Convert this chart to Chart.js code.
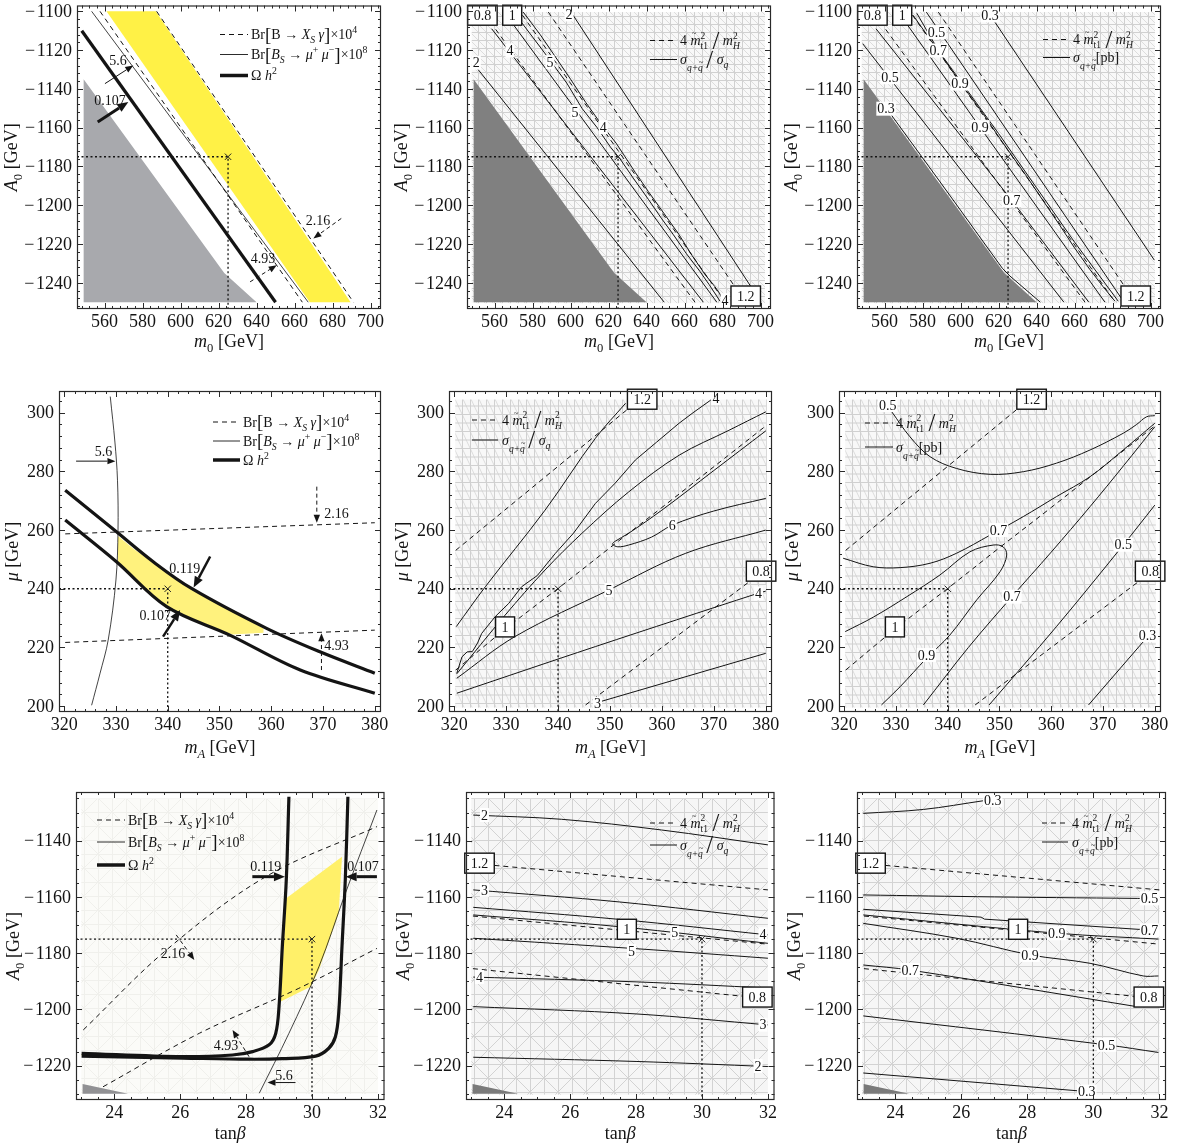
<!DOCTYPE html>
<html>
<head>
<meta charset="utf-8">
<script src="https://cdn.jsdelivr.net/npm/chart.js@4.4.1/dist/chart.umd.min.js"></script>
<style>
  body { margin: 0; background: #fff; width: 1186px; height: 1146px; position: relative; overflow: hidden; }
  canvas { position: absolute; }
</style>
</head>
<body>
<script>
// ---------- axes ----------
const m0Range = [545.5, 705.5];
const a0RangeTop = [-1253.5, -1097];
const mARange = [319, 381.2];
const muRange = [198, 307.4];
const tbRange = [22.84, 32.2];
const a0RangeBot = [-1232.2, -1122.7];

const m0Ticks = [560, 580, 600, 620, 640, 660, 680, 700];
const a0TicksTop = [-1240, -1220, -1200, -1180, -1160, -1140, -1120, -1100];
const mATicks = [320, 330, 340, 350, 360, 370, 380];
const muTicks = [200, 220, 240, 260, 280, 300];
const tbTicks = [24, 26, 28, 30, 32];
const a0TicksBot = [-1220, -1200, -1180, -1160, -1140];

// benchmark point in each plane
const benchTop = [625, -1175];
const benchMid = [340, 240];
const benchBot = [30, -1175];

// ---------- (m0, A0) plane ----------
const topExcluded = [[549, -1135], [623, -1235], [640, -1250], [549, -1250]];
const p1Band = [[561, -1100], [587, -1100], [689.5, -1250], [668, -1250]];
const p1Relic107 = [[548, -1110], [650, -1250]];
const p1Bsmm56 = [[553.2, -1100], [667.2, -1250]];
const p1Bsg493 = [[557.6, -1100], [664.1, -1250]];
const p1Bsg216 = [[587.4, -1100], [691, -1250]];

// 4 m_t1^2 / m_H^2 (shared by both cross-section panels)
const topStop08 = [[560.6, -1109.3], [665.5, -1250]];
const topStop10 = [[574.7, -1102], [681, -1249.5]];
const topStop12 = [[588.3, -1100.4], [692, -1250]];

// sigma ratio contours
const p2Ratio2a = [[549.7, -1128], [649.3, -1250]];
const p2Ratio4a = [[558.5, -1109], [669.9, -1250]];
const p2Ratio5a = [[570, -1107], [677, -1250]];
const p2Ratio5b = [[573.4, -1104.7], [586, -1121], [598, -1137], [606, -1150], [614, -1160], [621, -1170], [626, -1176],
  [633, -1186], [641, -1197], [648, -1207], [654, -1215], [661, -1225], [668, -1234], [673, -1241], [678.7, -1249.5]];
const p2Ratio4b = [[575.1, -1100.4], [584, -1112], [591, -1122], [600, -1135], [608, -1147], [616, -1158], [624, -1168],
  [628, -1174], [634, -1183], [641, -1193], [649, -1204], [657, -1215], [664, -1226], [671, -1236], [676, -1242], [681.3, -1249.5]];
const p2Ratio2b = [[601.4, -1102.1], [700.3, -1250]];

// sigma [pb] contours
const p3Xs03a = [[561, -1150], [590, -1189], [622, -1232.5], [626, -1236.5], [642, -1250]];
const p3Xs05a = [[548.5, -1116.7], [654.4, -1250]];
const p3Xs07a = [[555.5, -1109], [626.9, -1197.4], [667.5, -1250]];
const p3Xs09a = [[571.6, -1106.4], [610.2, -1159.7], [676, -1250]];
const p3Xs09b = [[575, -1102], [588, -1120], [600, -1137], [612, -1153], [621, -1166], [626, -1173], [634, -1184],
  [643, -1197], [652, -1210], [660, -1222], [668, -1233], [675, -1242], [681.3, -1249.5]];
const p3Xs07b = [[577, -1101], [588.3, -1120.2], [600, -1136], [620, -1163], [640, -1191], [660, -1219], [683, -1249.5]];
const p3Xs05b = [[582, -1100.4], [685.7, -1249.5]];
const p3Xs03b = [[618.1, -1105.6], [702, -1228.3]];

// ---------- (mA, mu) plane ----------
const p4Band = [[330.4, 258], [333.5, 253.5], [337.2, 249], [340.8, 244.5], [344.6, 240], [348.3, 236.3], [352, 232.8],
  [355.2, 229.6], [358.5, 226.5], [358.5, 225], [352.6, 224.4], [348.5, 226.8], [345, 229.2], [339.8, 233.5], [337.2, 237.1],
  [335, 241], [332.6, 245], [330.4, 248.8]];
const p4Relic119 = [[320.2, 273.6], [330.1, 259.4], [337.2, 249.2], [344.6, 240.1], [359.1, 226.5], [369.4, 218.5], [380, 211.2]];
const p4Relic107 = [[320.2, 263.4], [330.1, 249.2], [339.8, 233.9], [352, 224.2], [365.6, 212.3], [380, 204.4]];
const p4Bsmm56 = [[328.9, 305.5], [329.8, 290], [330.3, 277], [330.4, 260], [330, 243], [328.5, 222.5], [326.9, 211], [325.3, 200.3]];
const p4Bsg216 = [[320.2, 258.7], [380, 262.5]];
const p4Bsg493 = [[320.2, 221.7], [380, 225.9]];

const midStop12 = [[320.3, 253.1], [353.2, 300.9]];
const midStop10 = [[320.3, 212.3], [330, 226.5], [340.5, 240.8], [350, 254], [360, 267.7], [380, 295.5]];
const midStop08 = [[345.3, 200.4], [376.6, 242.1]];

const p5Ratio3a = [[320.4, 227.1], [326, 240.7], [337.5, 266.8], [347.2, 291.3], [353, 303.2]];
const p5Ratio4a = [[320.5, 211.2], [321.5, 216.8], [322.5, 218.5], [323.5, 218.6], [324.5, 221.5], [325.3, 224.8],
  [327.9, 230.5], [330.5, 235], [333, 240.7], [336, 244.5], [339.5, 252.1], [343, 259], [347.2, 269.1], [351, 276],
  [354.9, 283.9], [359, 290], [363.3, 296.4], [366, 300], [369.4, 304.3]];
const p5Ratio5a = [[320.5, 211], [329.8, 231], [337.5, 246.4], [344.6, 258.9], [353.6, 273], [363.3, 285.5], [372.9, 294], [380, 300.3]];
const p5Ratio6 = [[380, 293.8], [370, 280.3], [360, 266.8], [353.5, 258.8], [351, 256.2], [350.5, 255.2], [351.5, 254.3],
  [353.6, 254.9], [358, 257.6], [362, 261.7], [370, 266.5], [380, 270.8]];
const p5Ratio5b = [[320.5, 209.5], [331.7, 223.7], [349.8, 239.6], [364.6, 252.1], [380, 260]];
const p5Ratio4b = [[320.5, 204.4], [347.2, 220.3], [378.4, 238.4], [380, 239.2]];
const p5Ratio3b = [[347.5, 201.2], [380, 218]];

const p6Xs05a = [[329.2, 300.3], [332.7, 291.8], [336.6, 285], [341.7, 281], [348.2, 279], [354.6, 279.9], [361, 282.8],
  [367.5, 287.3], [373.9, 293], [376.5, 296], [378.4, 298.6], [380, 299]];
const p6Xs07a = [[319.8, 250.4], [325.6, 247.5], [330.8, 247.2], [336.6, 248.7], [341.7, 252.1], [348.2, 258.3],
  [354.6, 264.6], [361, 271.4], [367.5, 278.2], [373.9, 287.3], [380, 296.4]];
const p6Xs09 = [[320.2, 225.4], [325.6, 230.3], [332.1, 237.3], [338.5, 244.7], [344.3, 252.6], [348.8, 254.9],
  [350.7, 254.3], [351.4, 251.5], [350.1, 245.8], [345.6, 236.2], [340.4, 224.2], [335.9, 216.3], [330.8, 206.6], [327.2, 200.4]];
const p6Xs07b = [[335.3, 200.4], [344, 220], [352.4, 237.3], [360, 252.5], [367.5, 268], [374, 282], [380, 295.2]];
const p6Xs05b = [[348, 200.4], [361, 227.1], [373.9, 254.9], [380, 268.5]];
const p6Xs03b = [[367.2, 200.4], [380, 226.5]];

// ---------- (tan beta, A0) plane ----------
const botExcluded = [[23.04, -1226.5], [24.42, -1230], [23.04, -1230]];
const p7Band = [[29.22, -1160.5], [30.91, -1145.7], [30.81, -1165.8], [30.21, -1186], [29.96, -1191.9], [29.05, -1197.2]];
const p7Sliver = [[23.01, -1215.9], [25.8, -1216.6], [25.8, -1217], [23.01, -1216.4]];
const p7Relic119 = [[29.3, -1124.4], [29.22, -1154], [29.1, -1177.7], [29.0, -1199], [28.9, -1208.5], [28.7, -1212.6],
  [28.2, -1215], [27.59, -1216.2], [26.08, -1216.8], [23.01, -1215.6]];
const p7Relic107 = [[31.09, -1124.4], [31.01, -1154], [30.91, -1177.7], [30.81, -1201.4], [30.71, -1209.7], [30.51, -1213.8],
  [30.11, -1216.6], [29.1, -1217.5], [28.09, -1217.7], [26.08, -1217.3], [23.01, -1216.6]];
const p7Bsg216 = [[23.06, -1207.3], [25.58, -1178.9], [28.6, -1152.8], [31.97, -1135]];
const p7Bsg493 = [[23.66, -1227.5], [26.58, -1208.5], [29.6, -1192.5], [31.97, -1178.3]];
const p7Bsmm56 = [[28.4, -1229.8], [29.3, -1208.5], [30.21, -1184.8], [31.01, -1158.8], [31.97, -1129.1]];

const botStop12 = [[23.7, -1148.8], [32, -1157.5]];
const botStop10 = [[23.05, -1166.8], [32, -1176.8]];
const botStop08 = [[23.05, -1185.5], [31.3, -1195.4]];

const p8Ratio2a = [[23.06, -1130.9], [25.74, -1132.4], [28.77, -1136.2], [32, -1141.5]];
const p8Ratio3a = [[23.06, -1157.5], [27.5, -1161.8], [32, -1167.6]];
const p8Ratio4a = [[23.06, -1163.7], [27.5, -1168], [32, -1173.5]];
const p8Ratio5a = [[23.06, -1166.4], [27.5, -1170.6], [32, -1176.5]];
const p8Ratio5b = [[23.06, -1174.7], [28, -1178.4], [32, -1181.8]];
const p8Ratio4b = [[23.06, -1188.5], [28, -1190.2], [32, -1192.4]];
const p8Ratio3b = [[23.06, -1199], [28, -1201.6], [32, -1205.5]];
const p8Ratio2b = [[23.06, -1217], [28, -1218.5], [32, -1220.3]];

const p9Xs03a = [[23.03, -1130.3], [24.85, -1128.9], [26.67, -1125.8]];
const p9Xs05a = [[23.03, -1159.3], [27, -1160], [31.97, -1160.6]];
const p9Xs07a = [[23.03, -1164.4], [26.6, -1167.2], [26.7, -1167.9], [31.97, -1172]];
const p9Xs09a = [[23.03, -1166.4], [28.89, -1172.9], [31.97, -1175]];
const p9Xs09b = [[23.03, -1169.4], [25.86, -1174.7], [28.08, -1180.6], [29.9, -1183.6], [31.51, -1188.1], [31.97, -1188.1]];
const p9Xs07b = [[23.03, -1184.2], [24.45, -1186], [31.31, -1199]];
const p9Xs05b = [[23.03, -1202.3], [30.4, -1212.6], [31.97, -1215.3]];
const p9Xs03b = [[23.03, -1222.6], [29.8, -1229.2]];

// ---------- drawing helpers ----------
const FONT = '"Liberation Serif", "Times New Roman", serif';
const INK = '#141414';
const fnt = (px, it) => (it ? 'italic ' : '') + px + 'px ' + FONT;

const KIND = {
  r: { s: 1, dy: 0, it: false }, i: { s: 1, dy: 0, it: true }, tm: { s: 1, dy: 0, it: true },
  b: { s: 1.35, dy: 0.1, it: false }, B: { s: 1.75, dy: 0.27, it: false },
  sb: { s: 0.7, dy: 0.3, it: false }, si: { s: 0.7, dy: 0.3, it: true },
  sp: { s: 0.7, dy: -0.42, it: false }, sit: { s: 0.68, dy: 0.5, it: true }
};

// mixed-style text run; y is the baseline
function rich(ctx, parts, x, y, size, draw) {
  let cx = x;
  for (const [t, k] of parts) {
    if (k === 'st' || k === 'str') {
      const [a, b] = t.split('|');
      ctx.font = fnt(size * 0.68, false);
      const wa = ctx.measureText(a).width;
      if (draw) ctx.fillText(a, cx, y - size * 0.45);
      ctx.font = fnt(size * 0.68, k === 'st');
      const wb = ctx.measureText(b).width;
      if (draw) ctx.fillText(b, cx, y + size * 0.3);
      cx += Math.max(wa, wb) + 1;
      continue;
    }
    const sp = KIND[k];
    ctx.font = fnt(size * sp.s, sp.it);
    const w = ctx.measureText(t).width;
    if (draw) {
      ctx.fillText(t, cx, y + size * sp.dy);
      if (k === 'tm' || k === 'sit') {
        const lw = ctx.measureText(t.slice(-1)).width;
        const base = y + size * sp.dy;
        ctx.font = fnt(size * 0.62, false);
        ctx.fillText('~', cx + w - lw + lw * 0.12, base - size * sp.s * 0.62);
      }
    }
    cx += w;
  }
  return cx - x;
}

function drawArrow(ctx, x0, y0, x1, y1, w, dash) {
  const a = Math.atan2(y1 - y0, x1 - x0);
  const hl = w > 2 ? 11 : 8, hw = w > 2 ? 4.5 : 3.2;
  const bx = x1 - Math.cos(a) * hl, by = y1 - Math.sin(a) * hl;
  ctx.save();
  ctx.strokeStyle = INK; ctx.fillStyle = INK; ctx.lineWidth = w; ctx.setLineDash(dash);
  ctx.beginPath(); ctx.moveTo(x0, y0); ctx.lineTo(bx, by); ctx.stroke();
  ctx.setLineDash([]);
  ctx.beginPath(); ctx.moveTo(x1, y1);
  ctx.lineTo(bx - Math.sin(a) * hw, by + Math.cos(a) * hw);
  ctx.lineTo(bx + Math.sin(a) * hw, by - Math.cos(a) * hw);
  ctx.closePath(); ctx.fill();
  ctx.restore();
}

// background mesh tiles
function makeTile(kind) {
  const t = document.createElement('canvas');
  const g = t.getContext('2d');
  if (kind === 'diag') {
    t.width = 8; t.height = 8;
    g.fillStyle = '#f8f8f8'; g.fillRect(0, 0, 8, 8);
    g.strokeStyle = '#dcdcdc'; g.lineWidth = 1;
    g.beginPath(); g.moveTo(0, 0); g.lineTo(8, 8); g.stroke();
    g.strokeStyle = '#d0d0d0';
    g.beginPath(); g.moveTo(0.5, 0); g.lineTo(0.5, 8); g.moveTo(0, 0.5); g.lineTo(8, 0.5); g.stroke();
  } else if (kind === 'steep') {
    t.width = 8; t.height = 17;
    g.fillStyle = '#f8f8f8'; g.fillRect(0, 0, 8, 17);
    g.strokeStyle = '#dcdcdc'; g.lineWidth = 1;
    g.beginPath(); g.moveTo(0, 0); g.lineTo(8, 17); g.stroke();
    g.strokeStyle = '#d0d0d0';
    g.beginPath(); g.moveTo(0.5, 0); g.lineTo(0.5, 17); g.moveTo(0, 0.5); g.lineTo(8, 0.5); g.moveTo(0, 9); g.lineTo(8, 9); g.stroke();
  } else {
    const faint = kind === 'faint';
    t.width = 28; t.height = 28;
    g.fillStyle = faint ? '#fbfbf8' : '#f6f6f6'; g.fillRect(0, 0, 28, 28);
    g.strokeStyle = faint ? '#f0f0ec' : '#d3d3d3'; g.lineWidth = 1;
    g.beginPath();
    g.moveTo(0.5, 0); g.lineTo(0.5, 28); g.moveTo(14.5, 0); g.lineTo(14.5, 28);
    g.moveTo(0, 0.5); g.lineTo(28, 0.5); g.moveTo(0, 14.5); g.lineTo(28, 14.5);
    g.moveTo(0, 14); g.lineTo(14, 0); g.lineTo(28, 14); g.lineTo(14, 28); g.closePath();
    g.stroke();
  }
  return t;
}

// ---------- per-panel decoration ----------
const TICK_PX = 18;
const A0title = [['A', 'i'], ['0', 'sb'], [' [GeV]', 'r']];
const axTop = { xt: m0Ticks, yt: a0TicksTop, xm: 4, ym: 4, xTitle: [['m', 'i'], ['0', 'sb'], [' [GeV]', 'r']], yTitle: A0title, xOff: 32, yOff: 65 };
const axMid = { xt: mATicks, yt: muTicks, xm: 2, ym: 4, xTitle: [['m', 'i'], ['A', 'si'], [' [GeV]', 'r']], yTitle: [['\u03bc', 'i'], [' [GeV]', 'r']], xOff: 35, yOff: 46 };
const axBot = { xt: tbTicks, yt: a0TicksBot, xm: 0.5, ym: 5, xTitle: [['tan', 'r'], ['\u03b2', 'i']], yTitle: A0title, xOff: 33, yOff: 62 };

const legBr = [
  { dash: [5, 4], w: 1, parts: [['Br', 'r'], ['[', 'b'], ['B', 'r'], [' \u2192 ', 'r'], ['X', 'i'], ['S', 'si'], [' \u03b3', 'i'], [']', 'b'], ['\u00d710', 'r'], ['4', 'sp']] },
  { dash: [], w: 0.9, parts: [['Br', 'r'], ['[', 'b'], ['B', 'i'], ['S', 'si'], [' \u2192 ', 'r'], ['\u03bc', 'i'], ['+', 'sp'], [' \u03bc', 'i'], ['\u2212', 'sp'], [']', 'b'], ['\u00d710', 'r'], ['8', 'sp']] },
  { dash: [], w: 3.5, parts: [['\u03a9', 'r'], [' h', 'i'], ['2', 'sp']] }
];
const legStop = { dash: [5, 4], w: 1, parts: [['4 ', 'r'], ['m', 'tm'], ['2|t1', 'str'], [' ', 'r'], ['/', 'B'], [' ', 'r'], ['m', 'i'], ['2|H', 'st']] };
const legRatio = [legStop, { dash: [], w: 1, parts: [['\u03c3', 'i'], ['q+q', 'sit'], [' ', 'r'], ['/', 'B'], [' ', 'r'], ['\u03c3', 'i'], ['q', 'si']] }];
const legXsec = [legStop, { dash: [], w: 1, parts: [['\u03c3', 'i'], ['q+q', 'sit'], ['[pb]', 'r']] }];

const boxesTop = [['0.8', 553.6, -1102], ['1', 569.3, -1102], ['1.2', 692.2, -1246.8]];
const boxesMid = [['1.2', 356.2, 304.6], ['1', 329.8, 227], ['0.8', 379.1, 246]];
const boxesBot = [['1.2', 23.25, -1148], ['1', 27.72, -1171.5], ['0.8', 31.68, -1195.6]];

const decor = {
  p1: { ax: axTop, mesh: null, meshBox: null,
    legend: { x0: 143, x1: 171, tx: 174, ys: [29, 49, 70], rows: legBr, size: 14 },
    notes: [['5.6', 567.1, -1125.3], ['0.107', 562.9, -1145.9], ['2.16', 672.3, -1207.7], ['4.93', 643.4, -1227.3]],
    arrows: [{ f: [560.2, -1137.3], t: [575.1, -1127.9], w: 1, dash: [] }, { f: [556.4, -1157.1], t: [572.5, -1146.8], w: 3, dash: [] },
      { f: [684.6, -1206.8], t: [669.9, -1217.1], w: 1, dash: [4, 3] }, { f: [636.6, -1239.5], t: [650.6, -1230.9], w: 1, dash: [4, 3] }],
    labels: [], boxes: [] },
  p2: { ax: axTop, mesh: 'diag', meshBox: [548, 702.3, -1250.5, -1100.4],
    legend: { x0: 183, x1: 210, tx: 213, ys: [35, 54], rows: legRatio, size: 14 },
    labels: [['2', 550.4, -1126.5], ['4', 568.1, -1120.2], ['5', 589.2, -1126.2], ['5', 602.3, -1151.9], ['4', 617.2, -1159.7], ['2', 599.2, -1101.6], ['4', 681.3, -1249]],
    boxes: boxesTop, notes: [], arrows: [] },
  p3: { ax: axTop, mesh: 'diag', meshBox: [548, 702.3, -1250.5, -1100.4],
    legend: { x0: 186, x1: 213, tx: 216, ys: [34, 52], rows: legXsec, size: 14 },
    labels: [['0.3', 560.8, -1150.2], ['0.5', 562.9, -1134], ['0.7', 626.9, -1197.4], ['0.9', 610.2, -1159.7], ['0.9', 599.7, -1137.3],
      ['0.7', 588.3, -1120.2], ['0.5', 587.4, -1110.7], ['0.3', 615.5, -1102.1]],
    boxes: boxesTop, notes: [], arrows: [] },
  p4: { ax: axMid, mesh: null, meshBox: null,
    legend: { x0: 154, x1: 181, tx: 184, ys: [31, 50, 69], rows: legBr, size: 14 },
    notes: [['5.6', 327.6, 286.7], ['2.16', 372.6, 265.7], ['4.93', 372.6, 220.8], ['0.119', 343.3, 247], ['0.107', 337.6, 231.1]],
    arrows: [{ f: [322.3, 283.5], t: [329.9, 283.5], w: 1, dash: [] }, { f: [368.8, 274.8], t: [368.8, 262.5], w: 1, dash: [4, 3] },
      { f: [369.7, 212.3], t: [369.7, 224.8], w: 1, dash: [4, 3] }, { f: [348.2, 251], t: [345, 240.4], w: 2.5, dash: [] },
      { f: [339.1, 223.7], t: [342.4, 232.8], w: 2.5, dash: [] }],
    labels: [], boxes: [] },
  p5: { ax: axMid, mesh: 'steep', meshBox: [320.2, 380.2, 199.5, 304.5],
    legend: { x0: 23, x1: 49, tx: 53, ys: [29, 49], rows: legRatio, size: 14 },
    labels: [['4', 370.4, 305], ['6', 362, 261.7], ['5', 349.8, 239.6], ['4', 378.6, 238.4], ['3', 347.6, 200.8]],
    boxes: boxesMid, notes: [], arrows: [] },
  p6: { ax: axMid, mesh: 'steep', meshBox: [320.2, 380.2, 199.5, 304.5],
    legend: { x0: 26, x1: 54, tx: 57, ys: [32, 56], rows: legXsec, size: 14 },
    labels: [['0.5', 328.4, 302.6], ['0.7', 349.8, 260], ['0.9', 335.9, 217.4], ['0.7', 352.4, 237.3], ['0.5', 373.9, 255], ['0.3', 378.6, 224.2]],
    boxes: boxesMid, notes: [], arrows: [] },
  p7: { ax: axBot, mesh: 'faint', meshBox: [23, 32, -1230, -1125],
    legend: { x0: 21, x1: 49, tx: 52, ys: [28, 50, 73], rows: legBr, size: 14 },
    notes: [['0.119', 28.6, -1149.3], ['0.107', 31.55, -1149.3], ['2.16', 25.78, -1180], ['4.93', 27.39, -1212.6], ['5.6', 29.15, -1223.3]],
    arrows: [{ f: [28.19, -1152.8], t: [29.18, -1152.8], w: 3, dash: [] }, { f: [31.97, -1152.8], t: [31.02, -1152.8], w: 3, dash: [] },
      { f: [25.88, -1173.5], t: [26.43, -1182.4], w: 1, dash: [4, 3] }, { f: [28.09, -1216.8], t: [27.59, -1207.3], w: 1, dash: [4, 3] },
      { f: [29.5, -1226], t: [28.65, -1226], w: 1, dash: [] }],
    labels: [], boxes: [] },
  p8: { ax: axBot, mesh: 'tri', meshBox: [23, 32, -1230.3, -1124.9],
    legend: { x0: 184, x1: 211, tx: 214, ys: [31, 53], rows: legRatio, size: 14 },
    labels: [['2', 23.4, -1130.9], ['3', 23.4, -1157.5], ['4', 31.85, -1173.3], ['5', 29.17, -1172.7], ['5', 27.86, -1179.2],
      ['4', 23.25, -1188.5], ['3', 31.85, -1205.4], ['2', 31.7, -1220.1]],
    boxes: boxesBot, notes: [], arrows: [] },
  p9: { ax: axBot, mesh: 'tri', meshBox: [23, 32, -1230.3, -1124.9],
    legend: { x0: 185, x1: 211, tx: 215, ys: [31, 50], rows: legXsec, size: 14 },
    labels: [['0.3', 26.95, -1125.5], ['0.5', 31.7, -1160.5], ['0.7', 31.7, -1171.9], ['0.9', 28.89, -1172.9], ['0.9', 28.08, -1180.6],
      ['0.7', 24.45, -1186], ['0.5', 30.4, -1212.6], ['0.3', 29.8, -1229.2]],
    boxes: boxesBot, notes: [], arrows: [] }
};

const tiles = {};
const fmt = v => (v < 0 ? '\u2212\u200a' + Math.abs(v) : String(v));

const decoPlugin = {
  id: 'deco',
  beforeDatasetsDraw(chart) {
    const d = decor[chart.canvas.id];
    if (!d.mesh) return;
    const { ctx, scales: { x, y } } = chart;
    if (!tiles[d.mesh]) tiles[d.mesh] = makeTile(d.mesh);
    const [x0, x1, y0, y1] = d.meshBox;
    const px0 = x.getPixelForValue(x0), px1 = x.getPixelForValue(x1);
    const py0 = y.getPixelForValue(y1), py1 = y.getPixelForValue(y0);
    ctx.save();
    ctx.fillStyle = ctx.createPattern(tiles[d.mesh], 'repeat');
    ctx.fillRect(px0, py0, px1 - px0, py1 - py0);
    ctx.restore();
  },
  afterDatasetsDraw(chart) {
    const d = decor[chart.canvas.id];
    const { ctx, scales: { x, y } } = chart;
    const P = (a, b) => [x.getPixelForValue(a), y.getPixelForValue(b)];
    ctx.save();
    ctx.fillStyle = INK;
    ctx.textBaseline = 'middle';
    ctx.textAlign = 'center';

    // contour labels on a white patch
    ctx.font = fnt(14, false);
    for (const [t, a, b] of d.labels) {
      const [px, py] = P(a, b);
      const w = ctx.measureText(t).width;
      ctx.fillStyle = '#fff';
      ctx.fillRect(px - w / 2 - 1, py - 7, w + 2, 14);
      ctx.fillStyle = INK;
      ctx.fillText(t, px, py + 1);
    }
    // boxed contour labels
    for (const [t, a, b] of d.boxes) {
      const [px, py] = P(a, b);
      const w = ctx.measureText(t).width + 12;
      ctx.fillStyle = '#fff';
      ctx.fillRect(px - w / 2, py - 10, w, 20);
      ctx.strokeStyle = INK; ctx.lineWidth = 1.4;
      ctx.strokeRect(px - w / 2, py - 10, w, 20);
      ctx.fillStyle = INK;
      ctx.fillText(t, px, py + 1);
    }
    // plain annotations
    for (const [t, a, b] of d.notes) {
      const [px, py] = P(a, b);
      ctx.fillText(t, px, py + 1);
    }
    for (const ar of d.arrows) {
      const [x0, y0] = P(ar.f[0], ar.f[1]);
      const [x1, y1] = P(ar.t[0], ar.t[1]);
      drawArrow(ctx, x0, y0, x1, y1, ar.w, ar.dash);
    }
    // legend
    const { left, top } = chart.chartArea;
    const lg = d.legend;
    ctx.textAlign = 'left';
    ctx.textBaseline = 'alphabetic';
    lg.rows.forEach((row, i) => {
      const yy = top + lg.ys[i];
      ctx.strokeStyle = INK; ctx.lineWidth = row.w; ctx.setLineDash(row.dash);
      ctx.beginPath(); ctx.moveTo(left + lg.x0, yy); ctx.lineTo(left + lg.x1, yy); ctx.stroke();
      ctx.setLineDash([]);
      rich(ctx, row.parts, left + lg.tx, yy + lg.size * 0.33, lg.size, true);
    });
    ctx.restore();
  },
  afterDraw(chart) {
    const d = decor[chart.canvas.id];
    const ax = d.ax;
    const { ctx, chartArea: { left: L, right: R, top: T, bottom: B }, scales: { x, y } } = chart;
    ctx.save();
    ctx.strokeStyle = '#2a2a2a'; ctx.lineWidth = 1.2;
    ctx.strokeRect(L + 0.5, T + 0.5, R - L - 1, B - T - 1);

    const minorVals = (scale, major, step) => {
      const out = [];
      const ms = major[1] - major[0];
      for (let v = Math.ceil(scale.min / step) * step; v <= scale.max; v += step) {
        const r = v / ms;
        if (Math.abs(r - Math.round(r)) > 1e-6) out.push(v);
      }
      return out;
    };
    ctx.lineWidth = 1;
    ctx.beginPath();
    for (const v of ax.xt) {
      const px = Math.round(x.getPixelForValue(v)) + 0.5;
      ctx.moveTo(px, B); ctx.lineTo(px, B - 6); ctx.moveTo(px, T); ctx.lineTo(px, T + 6);
    }
    for (const v of minorVals(x, ax.xt, ax.xm)) {
      const px = Math.round(x.getPixelForValue(v)) + 0.5;
      ctx.moveTo(px, B); ctx.lineTo(px, B - 3); ctx.moveTo(px, T); ctx.lineTo(px, T + 3);
    }
    for (const v of ax.yt) {
      const py = Math.round(y.getPixelForValue(v)) + 0.5;
      ctx.moveTo(L, py); ctx.lineTo(L + 6, py); ctx.moveTo(R, py); ctx.lineTo(R - 6, py);
    }
    for (const v of minorVals(y, ax.yt, ax.ym)) {
      const py = Math.round(y.getPixelForValue(v)) + 0.5;
      ctx.moveTo(L, py); ctx.lineTo(L + 3, py); ctx.moveTo(R, py); ctx.lineTo(R - 3, py);
    }
    ctx.stroke();

    // tick labels
    ctx.fillStyle = INK;
    ctx.font = fnt(TICK_PX, false);
    ctx.textAlign = 'center'; ctx.textBaseline = 'middle';
    for (const v of ax.xt) ctx.fillText(fmt(v), x.getPixelForValue(v), B + 13);
    ctx.textAlign = 'right';
    for (const v of ax.yt) ctx.fillText(fmt(v), L - 5, y.getPixelForValue(v) + 1);

    // axis titles
    ctx.textAlign = 'left'; ctx.textBaseline = 'alphabetic';
    const wx = rich(ctx, ax.xTitle, 0, 0, TICK_PX, false);
    rich(ctx, ax.xTitle, (L + R) / 2 - wx / 2, B + ax.xOff + 6, TICK_PX, true);
    const wy = rich(ctx, ax.yTitle, 0, 0, TICK_PX, false);
    ctx.translate(L - ax.yOff, (T + B) / 2);
    ctx.rotate(-Math.PI / 2);
    rich(ctx, ax.yTitle, -wy / 2, 5, TICK_PX, true);
    ctx.restore();
  }
};

// ---------- dataset builders ----------
const pts = a => a.map(p => ({ x: p[0], y: p[1] }));
const line = (a, w = 1, dash = [], tension = 0) => ({
  data: pts(a), showLine: true, borderColor: INK, borderWidth: w, borderDash: dash, tension,
  pointRadius: 0, fill: false, order: 1
});
const curve = (a, w = 1, dash = []) => line(a, w, dash, 0.35);
const area = (a, color) => ({
  data: pts(a.concat([a[0]])), showLine: true, borderColor: 'rgba(0,0,0,0)', borderWidth: 0,
  backgroundColor: color, fill: 'shape', pointRadius: 0, order: 4
});
const bench = (b, xr, yr) => [
  { data: pts([[xr[0], b[1]], b, [b[0], yr[0]]]), showLine: true, borderColor: INK, borderWidth: 1.3,
    borderDash: [2, 2.5], pointRadius: 0, fill: false, order: 2 },
  { data: pts([b]), showLine: false, pointStyle: 'crossRot', pointRadius: 4.5, borderColor: '#222',
    borderWidth: 1, backgroundColor: '#222', order: 0 }
];
const DASH = [5, 4];

const panels = [
  { id: 'p1', pos: [0, 0, 390, 380], frame: [77, 5, 381, 309], xr: m0Range, yr: a0RangeTop,
    sets: [line(p1Relic107, 3.2), line(p1Bsmm56, 0.8), line(p1Bsg493, 1, DASH), line(p1Bsg216, 1, DASH),
      ...bench(benchTop, m0Range, a0RangeTop), area(p1Band, 'rgb(255,241,70)'), area(topExcluded, 'rgb(168,169,173)')] },
  { id: 'p2', pos: [390, 0, 390, 380], frame: [467, 5, 771, 309], xr: m0Range, yr: a0RangeTop,
    sets: [line(p2Ratio2a), line(p2Ratio4a), line(p2Ratio5a), line(p2Ratio5b), line(p2Ratio4b), line(p2Ratio2b),
      line(topStop08, 1, DASH), line(topStop10, 1, DASH), line(topStop12, 1, DASH),
      ...bench(benchTop, m0Range, a0RangeTop), area(topExcluded, 'rgb(128,128,128)')] },
  { id: 'p3', pos: [780, 0, 406, 380], frame: [857, 5, 1161, 309], xr: m0Range, yr: a0RangeTop,
    sets: [line(p3Xs03a), line(p3Xs05a), line(p3Xs07a), line(p3Xs09a), line(p3Xs09b), line(p3Xs07b), line(p3Xs05b), line(p3Xs03b),
      line(topStop08, 1, DASH), line(topStop10, 1, DASH), line(topStop12, 1, DASH),
      ...bench(benchTop, m0Range, a0RangeTop), area(topExcluded, 'rgb(128,128,128)')] },
  { id: 'p4', pos: [0, 380, 390, 390], frame: [59, 391, 381, 712], xr: mARange, yr: muRange,
    sets: [curve(p4Relic119, 3.2), curve(p4Relic107, 3.2), curve(p4Bsmm56, 0.8), line(p4Bsg216, 1, DASH), line(p4Bsg493, 1, DASH),
      ...bench(benchMid, mARange, muRange), area(p4Band, 'rgb(255,242,125)')] },
  { id: 'p5', pos: [390, 380, 390, 390], frame: [449, 391, 772, 712], xr: mARange, yr: muRange,
    sets: [curve(p5Ratio3a), line(p5Ratio4a), curve(p5Ratio5a), curve(p5Ratio6), curve(p5Ratio5b), curve(p5Ratio4b), line(p5Ratio3b),
      line(midStop12, 1, DASH), curve(midStop10, 1, DASH), line(midStop08, 1, DASH), ...bench(benchMid, mARange, muRange)] },
  { id: 'p6', pos: [780, 380, 406, 390], frame: [839, 391, 1161, 712], xr: mARange, yr: muRange,
    sets: [curve(p6Xs05a), curve(p6Xs07a), curve(p6Xs09), curve(p6Xs07b), curve(p6Xs05b), line(p6Xs03b),
      line(midStop12, 1, DASH), curve(midStop10, 1, DASH), line(midStop08, 1, DASH), ...bench(benchMid, mARange, muRange)] },
  { id: 'p7', pos: [0, 770, 390, 376], frame: [76, 792, 386, 1100], xr: tbRange, yr: a0RangeBot,
    sets: [curve(p7Relic119, 3.2), curve(p7Relic107, 3.2), curve(p7Bsmm56, 0.8), curve(p7Bsg216, 1, DASH), curve(p7Bsg493, 1, DASH),
      ...bench(benchBot, tbRange, a0RangeBot), area(p7Band, 'rgb(255,240,105)'), area(p7Sliver, 'rgb(255,240,105)'),
      area(botExcluded, 'rgb(145,145,148)')] },
  { id: 'p8', pos: [390, 770, 390, 376], frame: [466, 792, 775, 1100], xr: tbRange, yr: a0RangeBot,
    sets: [curve(p8Ratio2a), curve(p8Ratio3a), curve(p8Ratio4a), curve(p8Ratio5a), curve(p8Ratio5b), curve(p8Ratio4b), curve(p8Ratio3b), curve(p8Ratio2b),
      line(botStop12, 1, DASH), line(botStop10, 1, DASH), line(botStop08, 1, DASH),
      ...bench(benchBot, tbRange, a0RangeBot), area(botExcluded, 'rgb(122,122,122)')] },
  { id: 'p9', pos: [780, 770, 406, 376], frame: [857, 792, 1166, 1100], xr: tbRange, yr: a0RangeBot,
    sets: [curve(p9Xs03a), curve(p9Xs05a), line(p9Xs07a), curve(p9Xs09a), curve(p9Xs09b), curve(p9Xs07b), curve(p9Xs05b), line(p9Xs03b),
      line(botStop12, 1, DASH), line(botStop10, 1, DASH), line(botStop08, 1, DASH),
      ...bench(benchBot, tbRange, a0RangeBot), area(botExcluded, 'rgb(122,122,122)')] }
];

for (const p of panels) {
  const [cl, ct, cw, ch] = p.pos;
  const cv = document.createElement('canvas');
  cv.id = p.id;
  cv.width = cw; cv.height = ch;
  cv.style.left = cl + 'px'; cv.style.top = ct + 'px';
  cv.style.width = cw + 'px'; cv.style.height = ch + 'px';
  document.body.appendChild(cv);
  new Chart(cv, {
    type: 'scatter',
    data: { datasets: p.sets },
    options: {
      responsive: false,
      devicePixelRatio: 1,
      animation: false,
      events: [],
      layout: { padding: { left: p.frame[0] - cl, top: p.frame[1] - ct, right: cl + cw - p.frame[2], bottom: ct + ch - p.frame[3] } },
      scales: {
        x: { type: 'linear', min: p.xr[0], max: p.xr[1], display: false },
        y: { type: 'linear', min: p.yr[0], max: p.yr[1], display: false }
      },
      plugins: { legend: { display: false }, tooltip: { enabled: false } }
    },
    plugins: [decoPlugin]
  });
}
</script>
</body>
</html>
